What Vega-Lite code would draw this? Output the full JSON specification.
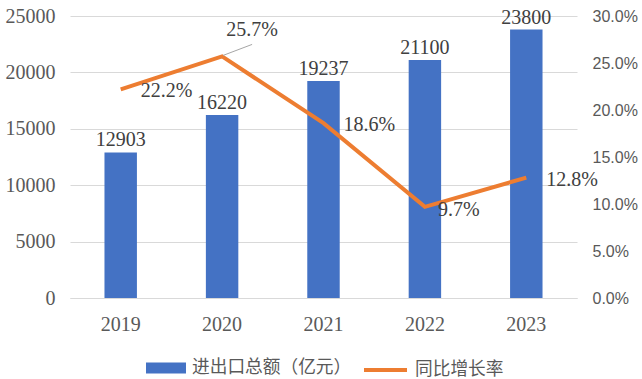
{
  "$schema": "https://vega.github.io/schema/vega-lite/v6.json",
  "width": 507,
  "height": 282,
  "autosize": {"type": "none"},
  "padding": {"left": 70, "top": 16, "right": 65, "bottom": 81},
  "background": "white",
  "config": {
    "view": {"stroke": null},
    "axis": {"labelFont": "Liberation Serif", "labelFontSize": 20, "labelColor": "#595959", "ticks": false, "domain": false, "title": null}
  },
  "data": {
    "values": [
      {"year": "2019", "amount": 12903, "rate": 0.222},
      {"year": "2020", "amount": 16220, "rate": 0.257},
      {"year": "2021", "amount": 19237, "rate": 0.186},
      {"year": "2022", "amount": 21100, "rate": 0.097},
      {"year": "2023", "amount": 23800, "rate": 0.128}
    ]
  },
  "encoding": {
    "x": {
      "field": "year", "type": "nominal",
      "scale": {"paddingInner": 0.68, "paddingOuter": 0.34},
      "axis": {"labelAngle": 0, "domain": true, "domainColor": "#D9D9D9", "domainWidth": 1, "labelPadding": 16, "grid": false}
    }
  },
  "layer": [
    {
      "encoding": {
        "y": {
          "field": "amount", "type": "quantitative",
          "scale": {"domain": [0, 25000], "nice": false},
          "axis": {"orient": "left", "values": [0, 5000, 10000, 15000, 20000, 25000], "grid": true, "gridColor": "#D9D9D9", "gridWidth": 1, "labelPadding": 15, "format": "d"}
        }
      },
      "layer": [
        {
          "mark": {"type": "bar", "color": "#4472C4"},
          "encoding": {
            "fill": {
              "datum": "进出口总额（亿元）",
              "scale": {"range": ["#4472C4"]},
              "legend": {
                "orient": "none", "legendX": 76, "legendY": 332, "title": null,
                "symbolType": "M-1,-0.27H1V0.27H-1Z", "symbolSize": 1600, "symbolStrokeWidth": 0,
                "labelFont": "Noto Sans CJK SC", "labelFontSize": 17.7, "labelColor": "#595959", "labelLimit": 400, "labelOffset": 6
              }
            }
          }
        },
        {
          "mark": {"type": "text", "font": "Liberation Serif", "fontSize": 20, "color": "#404040", "baseline": "middle", "dy": -12},
          "encoding": {"text": {"field": "amount", "type": "quantitative", "format": "d"}}
        }
      ]
    },
    {
      "encoding": {
        "y": {
          "field": "rate", "type": "quantitative",
          "scale": {"domain": [0, 0.3], "nice": false},
          "axis": {"orient": "right", "values": [0, 0.05, 0.1, 0.15, 0.2, 0.25, 0.3], "format": ".1%", "grid": false, "labelFont": "Liberation Sans", "labelFontSize": 16, "labelPadding": 15}
        }
      },
      "layer": [
        {
          "mark": {"type": "line", "strokeWidth": 4, "color": "#ED7D31"},
          "encoding": {
            "stroke": {
              "datum": "同比增长率",
              "scale": {"range": ["#ED7D31"]},
              "legend": {
                "orient": "none", "legendX": 292, "legendY": 330.5, "title": null,
                "symbolType": "stroke", "symbolSize": 1849, "symbolStrokeWidth": 4,
                "labelFont": "Noto Sans CJK SC", "labelFontSize": 17.7, "labelColor": "#595959", "labelLimit": 400, "labelOffset": 6
              }
            }
          }
        },
        {
          "transform": [{"filter": "datum.year != '2020' && datum.year != '2022'"}],
          "mark": {"type": "text", "font": "Liberation Serif", "fontSize": 20, "color": "#404040", "align": "left", "baseline": "middle", "dx": 20, "dy": 2},
          "encoding": {"text": {"field": "rate", "type": "quantitative", "format": ".1%"}}
        },
        {
          "transform": [{"filter": "datum.year == '2022'"}],
          "mark": {"type": "text", "font": "Liberation Serif", "fontSize": 20, "color": "#404040", "align": "left", "baseline": "middle", "dx": 13, "dy": 3},
          "encoding": {"text": {"field": "rate", "type": "quantitative", "format": ".1%"}}
        },
        {
          "transform": [{"filter": "datum.year == '2020'"}],
          "mark": {"type": "text", "font": "Liberation Serif", "fontSize": 20, "color": "#404040", "align": "center", "baseline": "middle", "dx": 30, "dy": -26},
          "encoding": {"text": {"field": "rate", "type": "quantitative", "format": ".1%"}}
        },
        {
          "transform": [{"filter": "datum.year == '2020'"}],
          "mark": {"type": "rule", "color": "#A6A6A6", "strokeWidth": 1, "xOffset": 1, "yOffset": -1, "x2Offset": 30, "y2Offset": -12},
          "encoding": {
            "x2": {"field": "year"},
            "y2": {"field": "rate"}
          }
        }
      ]
    }
  ],
  "resolve": {"scale": {"y": "independent"}}
}
